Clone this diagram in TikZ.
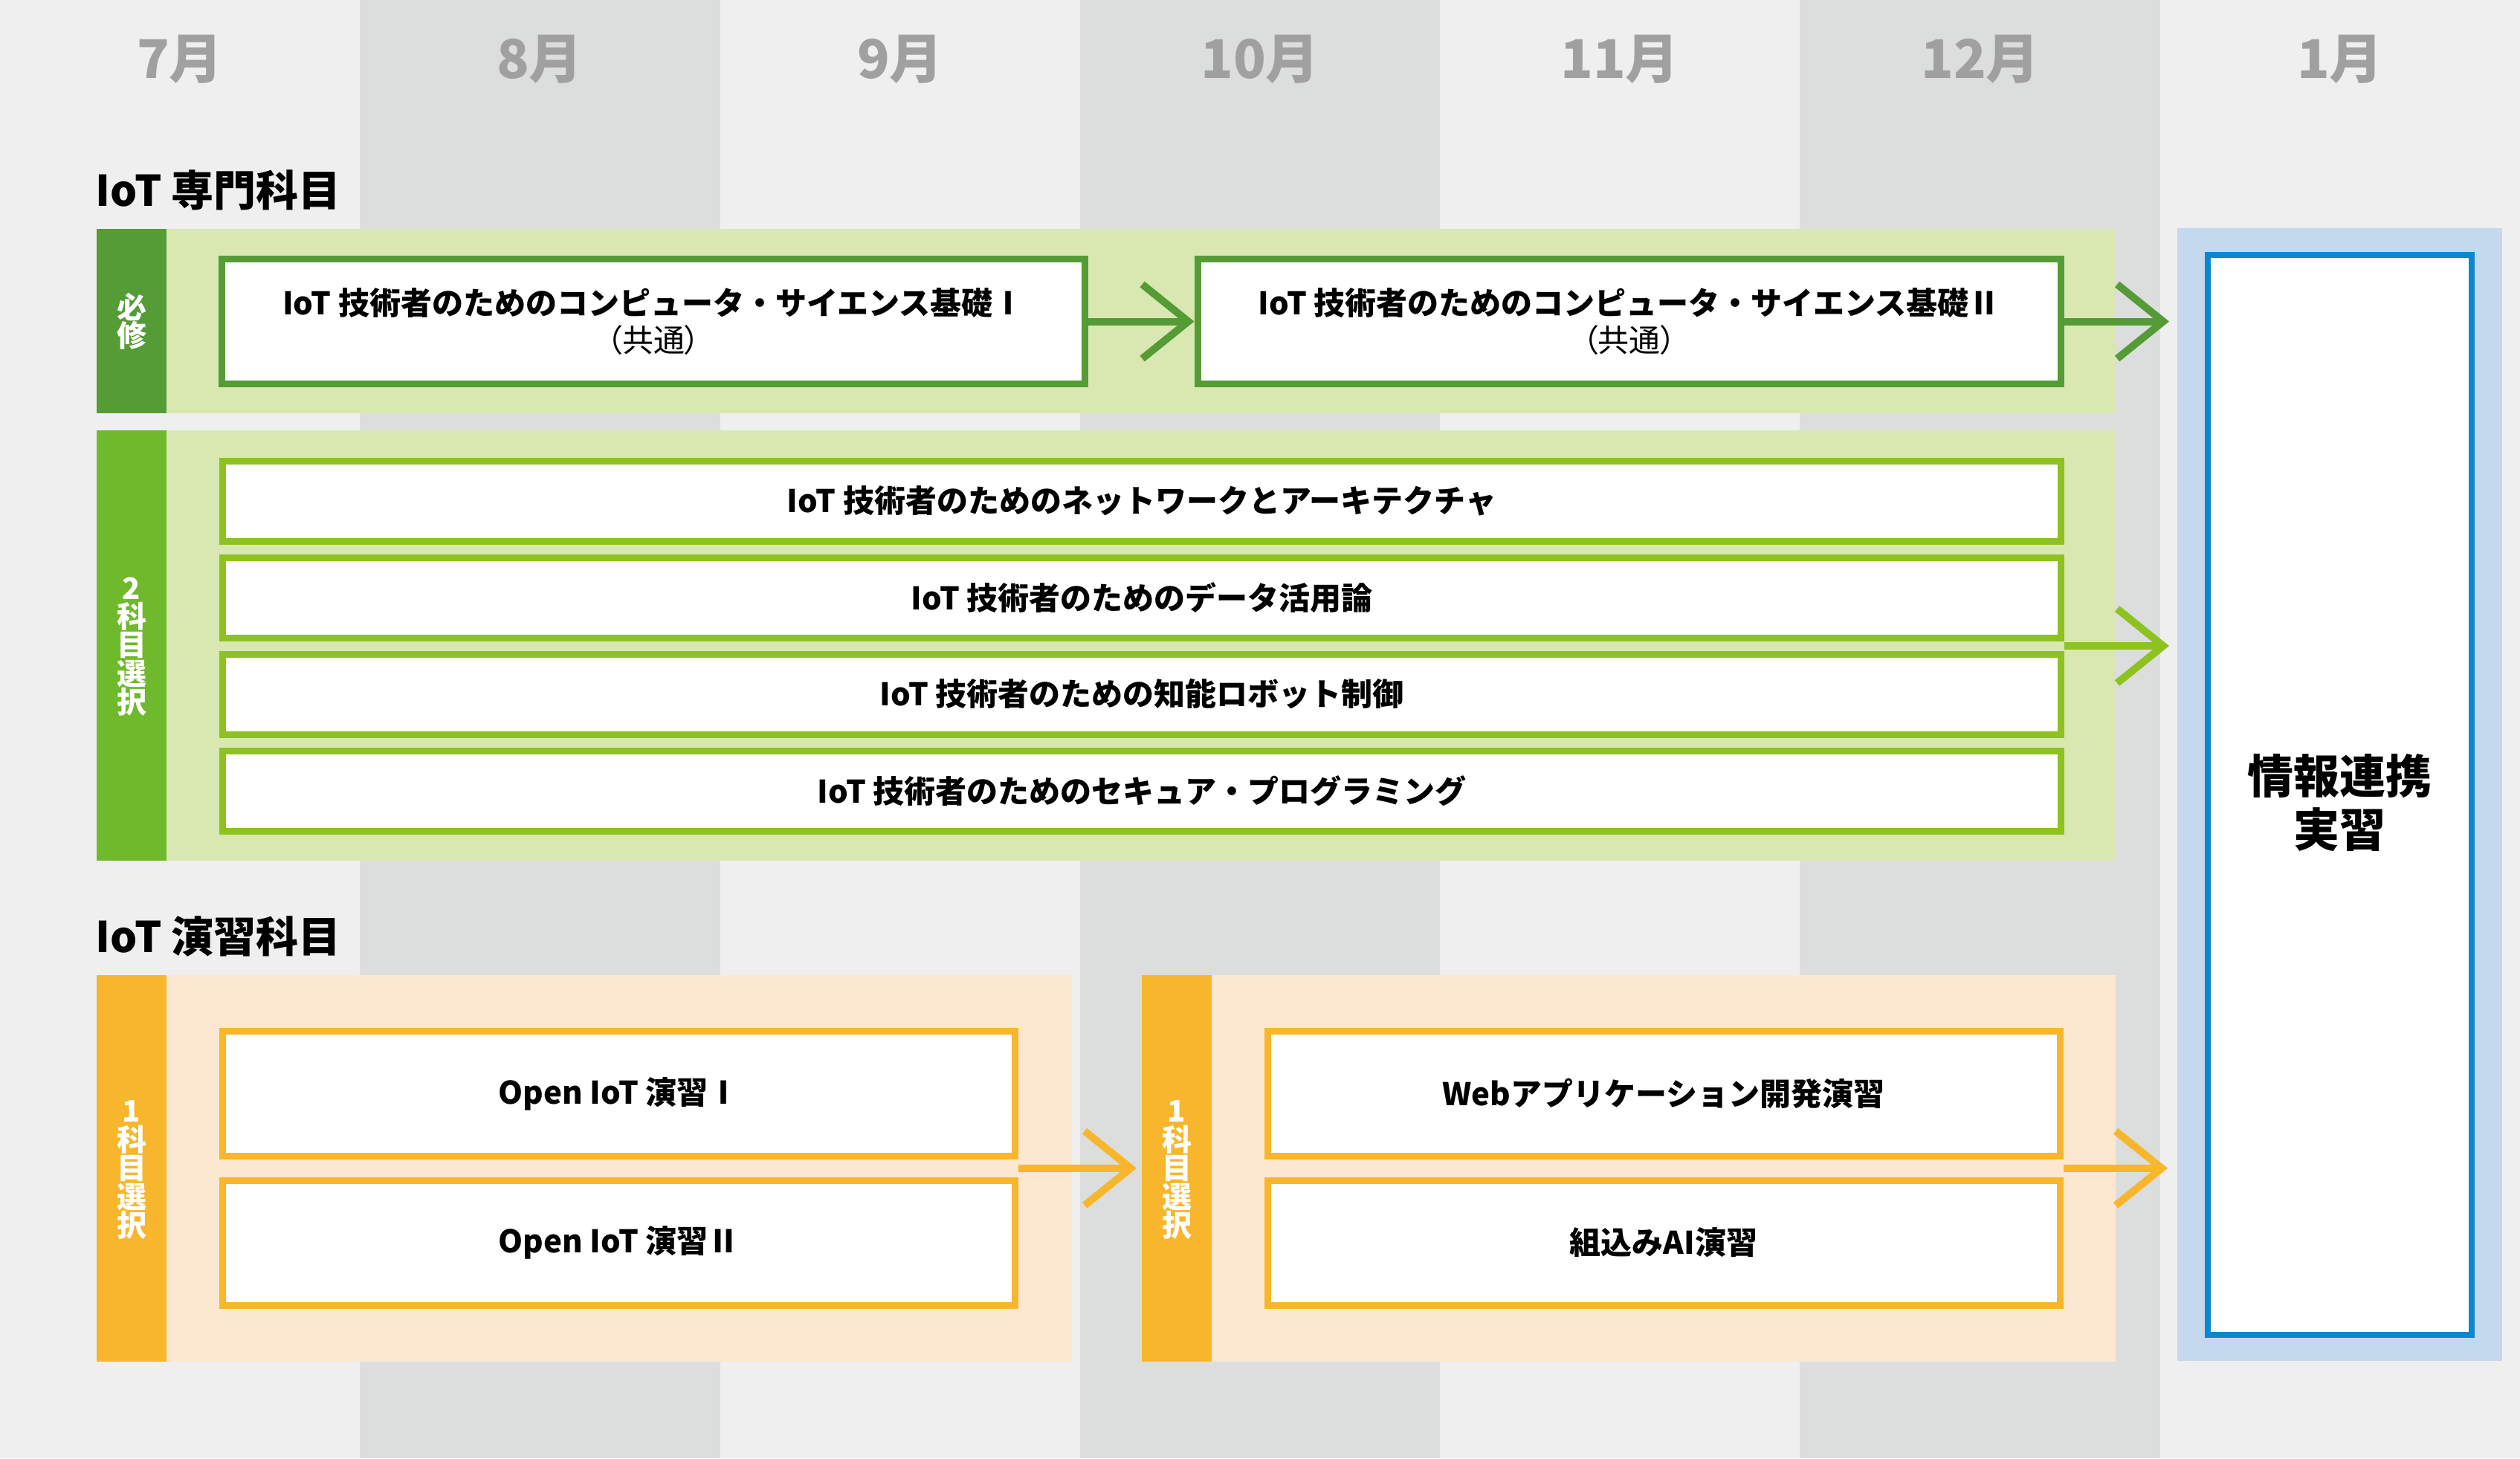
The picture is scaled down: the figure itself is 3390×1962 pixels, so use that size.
\documentclass[tikz,border=0pt]{standalone}
\usepackage{fontspec}
\setmainfont{Noto Sans CJK JP}
\newfontfamily\jpp{Noto Sans CJK JP}[RawFeature=+palt]
\usetikzlibrary{arrows.meta,calc}
\definecolor{colL}{HTML}{EFEFEF}
\definecolor{colD}{HTML}{DCDEDD}
\definecolor{gDark}{HTML}{559B36}
\definecolor{gMid}{HTML}{6FB92C}
\definecolor{gLine}{HTML}{8DC21F}
\definecolor{gPale}{HTML}{D9E8B1}
\definecolor{oMain}{HTML}{F8B62D}
\definecolor{oPale}{HTML}{FCE8D0}
\definecolor{bPale}{HTML}{C4D8EE}
\definecolor{bLine}{HTML}{0A87CE}
\definecolor{monthgray}{HTML}{A0A0A0}
\begin{document}
\begin{tikzpicture}[x=0.25pt,y=-0.25pt,
  month/.style={font=\bfseries\fontsize{18pt}{18pt}\selectfont, text=monthgray, inner sep=0},
  sect/.style={font=\bfseries\fontsize{14.25pt}{14.25pt}\selectfont, anchor=west, inner sep=0},
  course/.style={draw, line width=2.25pt, fill=white, inner sep=0, align=center,
    font=\bfseries\fontsize{10.5pt}{12.5pt}\selectfont},
  wide/.style={course, draw=gLine, minimum width=618.25pt, minimum height=27pt},
  req/.style={course, draw=gDark, minimum width=290.25pt, minimum height=42pt},
  prac/.style={course, draw=oMain, minimum width=266.5pt, minimum height=42pt},
  vlab/.style={text=white, inner sep=0, align=center,
    font=\bfseries\fontsize{10pt}{9.6pt}\selectfont},
  flow/.style={line width=2.5pt, -{Straight Barb[length=15.5pt, width=25pt]}},
]
\useasboundingbox (0,0) rectangle (3390,1962);
% month columns
\fill[colL] (0,0) rectangle (3390,1962);
\foreach \i in {1,3,5} {
  \fill[colD] ({\i*484.2857},0) rectangle ({(\i+1)*484.2857},1962);
}
\node[month] (m7)  at (242,80)  {7月};
\node[month] (m8)  at (726,80)  {8月};
\node[month] (m9)  at (1211,80) {9月};
\node[month] (m10) at (1695,80) {10月};
\node[month] (m11) at (2179,80) {11月};
\node[month] (m12) at (2664,80) {12月};
\node[month] (m1)  at (3148,80) {1月};

% section titles
\node[sect] (s1) at (128,256) {IoT 専門科目};
\node[sect] (s2) at (128,1260) {IoT 演習科目};

% bands
\fill[gPale] (224,308) rectangle (2846,556);
\fill[gDark] (130,308) rectangle (224,556);
\fill[gPale] (224,579) rectangle (2846,1158);
\fill[gMid]  (130,579) rectangle (224,1158);
\fill[oPale] (224,1312) rectangle (1442,1832);
\fill[oMain] (130,1312) rectangle (224,1832);
\fill[oPale] (1630,1312) rectangle (2846,1832);
\fill[oMain] (1536,1312) rectangle (1630,1832);
\fill[bPale] (2929,307) rectangle (3366,1831);

% strip labels
\node[vlab] (l1) at (177,432) {必\\修};
\node[vlab] (l2) at (177,870) {2\\科\\目\\選\\択};
\node[vlab] (l3) at (177,1574) {1\\科\\目\\選\\択};
\node[vlab] (l4) at (1583,1574) {1\\科\\目\\選\\択};

% required courses
\node[req] (B1) at (879,432.5) {IoT 技術者のためのコンピュータ・サイエンス基礎Ⅰ\\{\mdseries\jpp （共通）}};
\node[req] (B2) at (2191.5,432.5) {IoT 技術者のためのコンピュータ・サイエンス基礎Ⅱ\\{\mdseries\jpp （共通）}};

% elective courses (choose 2)
\node[wide] (r1) at (1536,674)  {IoT 技術者のためのネットワークとアーキテクチャ};
\node[wide] (r2) at (1536,804)  {IoT 技術者のためのデータ活用論};
\node[wide] (r3) at (1536,934)  {IoT 技術者のための知能ロボット制御};
\node[wide] (r4) at (1536,1064) {IoT 技術者のためのセキュア・プログラミング};

% practice courses
\node[prac] (o1) at (832.5,1471.5) {Open IoT 演習Ⅰ};
\node[prac] (o2) at (832.5,1672)   {Open IoT 演習Ⅱ};
\node[prac] (o3) at (2238,1471.5)  {Webアプリケーション開発演習};
\node[prac] (o4) at (2238,1672)    {組込みAI演習};

% final practicum
\node[draw=bLine, line width=2pt, fill=white, inner sep=0,
      minimum width=88.75pt, minimum height=363.25pt] (P) at (3147.5,1069.5) {};
\node[inner sep=0, align=center, font=\bfseries\fontsize{15.5pt}{18pt}\selectfont]
      (Pt) at ([yshift=-2.5pt]P.center) {情報連携\\実習};

% connectors
\coordinate (t1) at (2918,432.5);
\coordinate (s2a) at ($(r2.east)!0.5!(r3.east)$);
\coordinate (t2) at (2918,869);
\coordinate (s3) at ($(o1.east)!0.5!(o2.east)$);
\coordinate (t3) at (1529,1571.75);
\coordinate (s4) at ($(o3.east)!0.5!(o4.east)$);
\coordinate (t4) at (2916,1571.75);
\draw[flow, draw=gDark] (B1.east) -- (B2.west);
\draw[flow, draw=gDark] (B2.east) -- (t1);
\draw[flow, draw=gLine] (s2a) -- (t2);
\draw[flow, draw=oMain] (s3) -- (t3);
\draw[flow, draw=oMain] (s4) -- (t4);
\end{tikzpicture}
\end{document}
